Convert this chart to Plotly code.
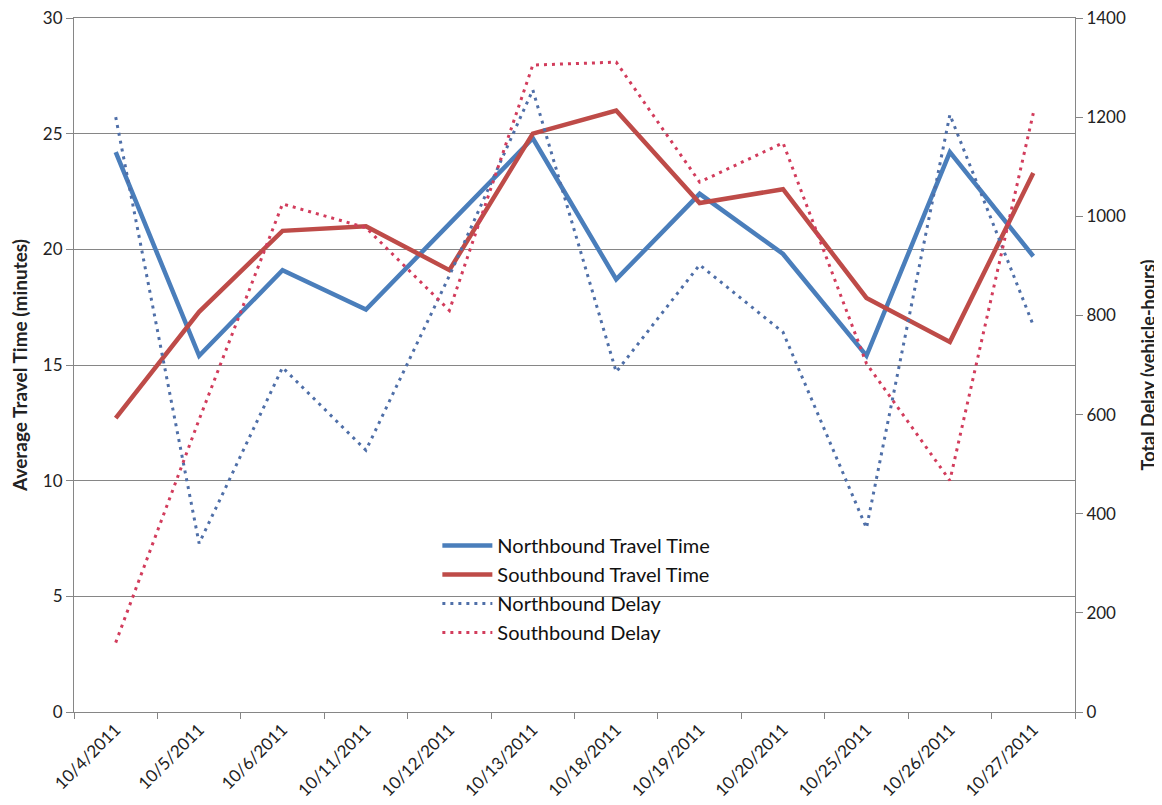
import plotly.graph_objects as go

dates = ["10/4/2011", "10/5/2011", "10/6/2011", "10/11/2011", "10/12/2011", "10/13/2011",
         "10/18/2011", "10/19/2011", "10/20/2011", "10/25/2011", "10/26/2011", "10/27/2011"]
nb_travel = [24.2, 15.4, 19.1, 17.4, 21.1, 24.8, 18.7, 22.4, 19.8, 15.4, 24.2, 19.7]
sb_travel = [12.7, 17.3, 20.8, 21.0, 19.1, 25.0, 26.0, 22.0, 22.6, 17.9, 16.0, 23.3]
nb_delay = [1200, 340, 695, 528, 880, 1255, 686, 902, 766, 371, 1205, 780]
sb_delay = [140, 590, 1025, 977, 810, 1305, 1311, 1069, 1148, 703, 467, 1208]

BLUE = "#4A7EBB"
RED = "#BE4B48"
BLUE_DOT = "#4F6FA8"
RED_DOT = "#D23C5C"
FONT = "Lato"

fig = go.Figure()
fig.add_trace(go.Scatter(x=dates, y=nb_travel, name="Northbound Travel Time", mode="lines",
                         line=dict(color=BLUE, width=4.5)))
fig.add_trace(go.Scatter(x=dates, y=sb_travel, name="Southbound Travel Time", mode="lines",
                         line=dict(color=RED, width=4.5)))
fig.add_trace(go.Scatter(x=dates, y=nb_delay, name="Northbound Delay", mode="lines", yaxis="y2",
                         line=dict(color=BLUE_DOT, width=3, dash="3px,5px")))
fig.add_trace(go.Scatter(x=dates, y=sb_delay, name="Southbound Delay", mode="lines", yaxis="y2",
                         line=dict(color=RED_DOT, width=3, dash="3px,5px")))

fig.update_layout(
    width=1162, height=805,
    margin=dict(l=66, r=95, t=10, b=101),
    plot_bgcolor="white", paper_bgcolor="white",
    font=dict(family=FONT, size=17, color="#222222"),
    showlegend=True,
    legend=dict(x=0.363, y=0.268, xanchor="left", yanchor="top",
                bgcolor="rgba(0,0,0,0)", font=dict(size=20, color="#111111"),
                itemwidth=50, tracegroupgap=0),
    xaxis=dict(type="category", range=[-0.5, 11.5], tickangle=-45, automargin=False,
               showline=True, mirror=True, linecolor="#868686", linewidth=1,
               ticks="outside", tickson="boundaries", ticklen=6, tickcolor="#868686",
               showgrid=False, tickfont=dict(size=17)),
    yaxis=dict(range=[0, 30], dtick=5, showline=True, linecolor="#868686", linewidth=1,
               ticks="outside", ticklen=7, tickcolor="#868686", automargin=False,
               ticklabeloverflow="allow",
               showgrid=True, gridcolor="#868686", gridwidth=1, zeroline=False,
               title=dict(text="<b>Average Travel Time (minutes)</b>", font=dict(size=19), standoff=10),
               tickfont=dict(size=17)),
    yaxis2=dict(range=[0, 1400], dtick=200, overlaying="y", side="right", automargin=False,
                ticklabeloverflow="allow",
                showline=True, linecolor="#868686", linewidth=1,
                ticks="outside", ticklen=7, tickcolor="#868686",
                showgrid=False, zeroline=False,
                title=dict(text="<b>Total Delay (vehicle-hours)</b>", font=dict(size=18), standoff=17),
                tickfont=dict(size=17)),
)

fig.write_html("out.html")
